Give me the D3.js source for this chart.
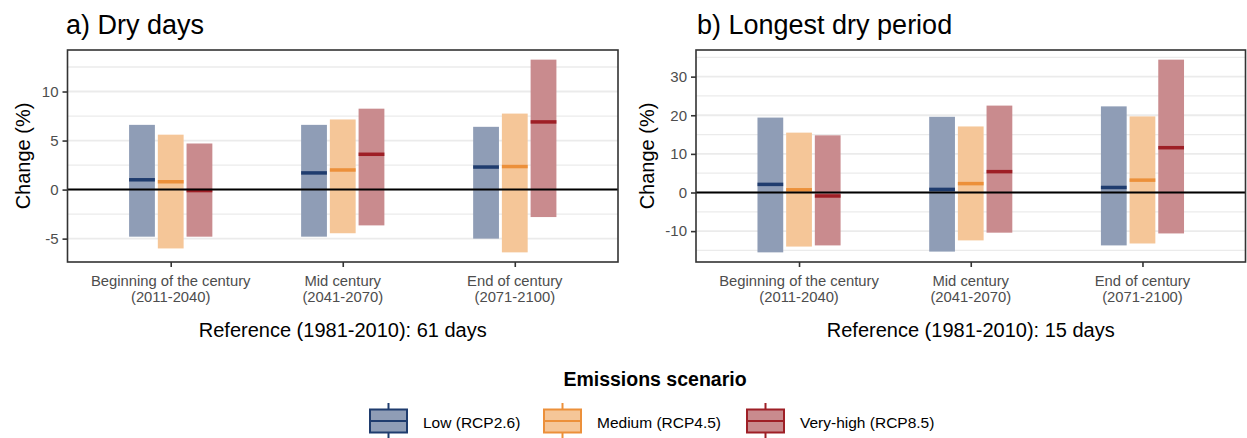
<!DOCTYPE html>
<html>
<head>
<meta charset="utf-8">
<script src="https://cdn.jsdelivr.net/npm/d3@7"></script>
<style>
  body { margin: 0; background: #fff; }
  svg { display: block; font-family: "Liberation Sans", Arial, sans-serif; }
</style>
</head>
<body>
<svg id="chart" width="1247" height="438"></svg>
<script>
// Time horizons on the x axis (two-line labels)
const periods = ["Beginning of the century", "Mid century", "End of century"];
const periodYears = ["(2011-2040)", "(2041-2070)", "(2071-2100)"];

// Emissions scenarios
const scenarios = ["Low (RCP2.6)", "Medium (RCP4.5)", "Very-high (RCP8.5)"];

// a) Dry days: change (%) per period, one value per scenario
const dryLow    = [-4.8, -4.8, -5.0];
const dryHigh   = [6.6, 6.6, 6.4];
const dryMedian = [1.0, 1.7, 2.3];
const dryLow45    = [-6.0, -4.45, -6.4];
const dryHigh45   = [5.6, 7.15, 7.75];
const dryMedian45 = [0.8, 2.0, 2.35];
const dryLow85    = [-4.8, -3.65, -2.8];
const dryHigh85   = [4.7, 8.25, 13.25];
const dryMedian85 = [-0.1, 3.6, 6.9];

// b) Longest dry period: change (%)
const ldpLow    = [-15.5, -15.3, -13.7];
const ldpHigh   = [19.4, 19.6, 22.3];
const ldpMedian = [2.1, 0.8, 1.3];
const ldpLow45    = [-14.0, -12.4, -13.2];
const ldpHigh45   = [15.5, 17.1, 19.7];
const ldpMedian45 = [0.7, 2.3, 3.2];
const ldpLow85    = [-13.7, -10.4, -10.6];
const ldpHigh85   = [14.8, 22.5, 34.4];
const ldpMedian85 = [-0.9, 5.4, 11.6];

const dryTicks = [-5, 0, 5, 10];
const ldpTicks = [-10, 0, 10, 20, 30];

const fillColors   = ["#8f9db6", "#f5c698", "#c98b8e"];
const strokeColors = ["#1f3c6e", "#ec903a", "#9e1f26"];

function buildRows(lo, hi, med) {
  const rows = [];
  periods.forEach((p, i) => {
    scenarios.forEach((s, j) => {
      rows.push({ period: p, scenario: j, lo: lo[j][i], hi: hi[j][i], med: med[j][i] });
    });
  });
  return rows;
}

const panels = [
  {
    title: "a) Dry days",
    xTitle: "Reference (1981-2010): 61 days",
    ticks: dryTicks,
    rows: buildRows([dryLow, dryLow45, dryLow85], [dryHigh, dryHigh45, dryHigh85], [dryMedian, dryMedian45, dryMedian85]),
    x0: 67.5, x1: 618, yTitleX: 30, titleX: 66
  },
  {
    title: "b) Longest dry period",
    xTitle: "Reference (1981-2010): 15 days",
    ticks: ldpTicks,
    rows: buildRows([ldpLow, ldpLow45, ldpLow85], [ldpHigh, ldpHigh45, ldpHigh85], [ldpMedian, ldpMedian45, ldpMedian85]),
    x0: 696, x1: 1245.5, yTitleX: 654, titleX: 697
  }
];

const svg = d3.select("#chart");
const panelTop = 50, panelBottom = 262;
const tickColor = "#4d4d4d";

panels.forEach(pn => {
  const g = svg.append("g");
  const x = d3.scalePoint().domain(periods).range([pn.x0, pn.x1]).padding(0.6);
  const step = x.step();
  const lo = d3.min(pn.rows, d => d.lo), hi = d3.max(pn.rows, d => d.hi);
  const pad = (hi - lo) * 0.05;
  const y = d3.scaleLinear().domain([lo - pad, hi + pad]).range([panelBottom, panelTop]);

  // grid: minor lines halfway between major ticks, then major lines
  const t = pn.ticks, d = t[1] - t[0];
  const minor = [];
  for (let v = t[0] - 2 * d - d / 2; v <= y.domain()[1]; v += d) if (v >= y.domain()[0]) minor.push(v);
  g.selectAll(".minor").data(minor).join("line")
    .attr("x1", pn.x0).attr("x2", pn.x1)
    .attr("y1", v => y(v)).attr("y2", v => y(v))
    .attr("stroke", "#ebebeb").attr("stroke-width", 1.3);
  g.selectAll(".major").data(t).join("line")
    .attr("x1", pn.x0).attr("x2", pn.x1)
    .attr("y1", v => y(v)).attr("y2", v => y(v))
    .attr("stroke", "#ebebeb").attr("stroke-width", 1.8);

  // range bars
  const off = 0.167 * step, bw = 0.15 * step;
  const cx = r => x(r.period) + (r.scenario - 1) * off;
  g.selectAll(".bar").data(pn.rows).join("rect")
    .attr("x", r => cx(r) - bw / 2).attr("width", bw)
    .attr("y", r => y(r.hi)).attr("height", r => y(r.lo) - y(r.hi))
    .attr("fill", r => fillColors[r.scenario]);
  g.selectAll(".med").data(pn.rows).join("line")
    .attr("x1", r => cx(r) - bw / 2).attr("x2", r => cx(r) + bw / 2)
    .attr("y1", r => y(r.med)).attr("y2", r => y(r.med))
    .attr("stroke", r => strokeColors[r.scenario]).attr("stroke-width", 3.5);

  // zero reference line
  g.append("line").attr("x1", pn.x0).attr("x2", pn.x1)
    .attr("y1", y(0)).attr("y2", y(0)).attr("stroke", "#000").attr("stroke-width", 2);

  // panel border
  g.append("rect").attr("x", pn.x0).attr("y", panelTop)
    .attr("width", pn.x1 - pn.x0).attr("height", panelBottom - panelTop)
    .attr("fill", "none").attr("stroke", "#333").attr("stroke-width", 1.6);

  // y axis
  const ya = g.append("g").attr("transform", `translate(${pn.x0},0)`)
    .call(d3.axisLeft(y).tickValues(t).tickSize(5).tickPadding(4).tickFormat(v => String(v)));
  ya.select(".domain").remove();
  ya.selectAll(".tick line").attr("stroke", "#333").attr("stroke-width", 1.6);
  ya.selectAll(".tick text").attr("fill", tickColor).style("font-size", "15px")
    .style("font-family", "'Liberation Sans', Arial, sans-serif");

  // x axis
  const xa = g.append("g").attr("transform", `translate(0,${panelBottom})`)
    .call(d3.axisBottom(x).tickSize(5).tickFormat(() => ""));
  xa.select(".domain").remove();
  xa.selectAll(".tick line").attr("stroke", "#333").attr("stroke-width", 1.6);
  xa.selectAll(".tick text").remove();
  periods.forEach((p, i) => {
    const tx = g.append("text").attr("x", x(p)).attr("text-anchor", "middle")
      .attr("fill", tickColor).style("font-size", "14.8px");
    tx.append("tspan").attr("x", x(p)).attr("y", 286).text(p);
    tx.append("tspan").attr("x", x(p)).attr("y", 302).text(periodYears[i]);
  });

  // axis titles
  g.append("text").attr("x", (pn.x0 + pn.x1) / 2).attr("y", 337)
    .attr("text-anchor", "middle").attr("fill", "#000").style("font-size", "20px").text(pn.xTitle);
  g.append("text").attr("transform", `translate(${pn.yTitleX},${(panelTop + panelBottom) / 2}) rotate(-90)`)
    .attr("text-anchor", "middle").attr("fill", "#000").style("font-size", "20px").text("Change (%)");

  // panel title
  g.append("text").attr("x", pn.titleX).attr("y", 34).attr("fill", "#000")
    .style("font-size", "27px").text(pn.title);
});

// legend
const lg = svg.append("g");
lg.append("text").attr("x", 655).attr("y", 386).attr("text-anchor", "middle")
  .style("font-size", "19.5px").style("font-weight", "bold").text("Emissions scenario");
const keyX = [370, 544, 747];
scenarios.forEach((s, i) => {
  const k = lg.append("g").attr("transform", `translate(${keyX[i]},0)`);
  k.append("line").attr("x1", 18.5).attr("x2", 18.5).attr("y1", 403).attr("y2", 438)
    .attr("stroke", strokeColors[i]).attr("stroke-width", 2);
  k.append("rect").attr("x", 0).attr("y", 409.5).attr("width", 37).attr("height", 23)
    .attr("fill", fillColors[i]).attr("stroke", strokeColors[i]).attr("stroke-width", 2);
  k.append("line").attr("x1", 0).attr("x2", 37).attr("y1", 421).attr("y2", 421)
    .attr("stroke", strokeColors[i]).attr("stroke-width", 2);
  k.append("text").attr("x", 53).attr("y", 428).style("font-size", "15.5px").attr("fill", "#000").text(s);
});
</script>
</body>
</html>
